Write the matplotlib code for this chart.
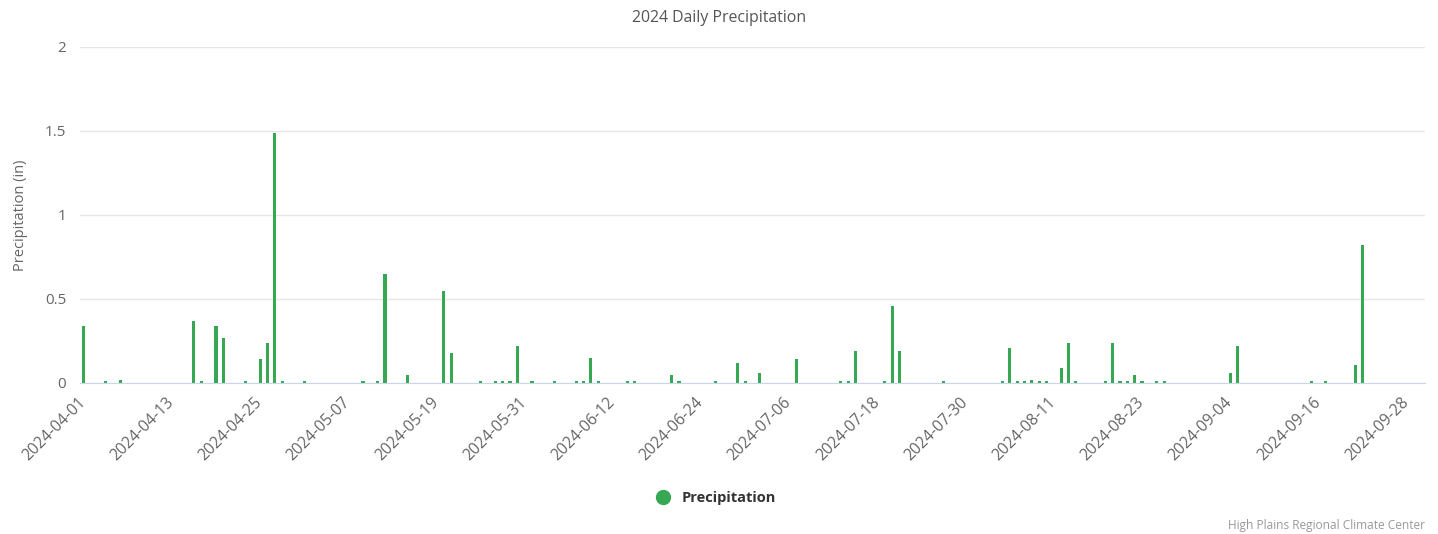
import numpy as np
import pandas as pd
import matplotlib
matplotlib.use("Agg")
import matplotlib.pyplot as plt
import matplotlib.transforms as mtransforms
from matplotlib.lines import Line2D

plt.rcParams['font.family'] = ['Open Sans', 'DejaVu Sans']

# daily precipitation (in), days not listed are zero
start_date = "2024-04-01"
end_date = "2024-09-30"
rain_dates = [
    "2024-04-01", "2024-04-04", "2024-04-06", "2024-04-16", "2024-04-17", "2024-04-19",
    "2024-04-20", "2024-04-23", "2024-04-25", "2024-04-26", "2024-04-27", "2024-04-28",
    "2024-05-01", "2024-05-09", "2024-05-11", "2024-05-12", "2024-05-15", "2024-05-20",
    "2024-05-21", "2024-05-25", "2024-05-27", "2024-05-28", "2024-05-29", "2024-05-30",
    "2024-06-01", "2024-06-04", "2024-06-07", "2024-06-08", "2024-06-09", "2024-06-10",
    "2024-06-14", "2024-06-15", "2024-06-20", "2024-06-21", "2024-06-26", "2024-06-29",
    "2024-06-30", "2024-07-02", "2024-07-07", "2024-07-13", "2024-07-14", "2024-07-15",
    "2024-07-19", "2024-07-20", "2024-07-21", "2024-07-27", "2024-08-04", "2024-08-05",
    "2024-08-06", "2024-08-07", "2024-08-08", "2024-08-09", "2024-08-10", "2024-08-12",
    "2024-08-13", "2024-08-14", "2024-08-18", "2024-08-19", "2024-08-20", "2024-08-21",
    "2024-08-22", "2024-08-23", "2024-08-25", "2024-08-26", "2024-09-04", "2024-09-05",
    "2024-09-15", "2024-09-17", "2024-09-21", "2024-09-22",
]
rain_values = [
    0.34, 0.01, 0.02, 0.37, 0.01, 0.34,
    0.27, 0.01, 0.14, 0.24, 1.49, 0.01,
    0.01, 0.01, 0.01, 0.65, 0.05, 0.55,
    0.18, 0.01, 0.01, 0.01, 0.01, 0.22,
    0.01, 0.01, 0.01, 0.01, 0.15, 0.01,
    0.01, 0.01, 0.05, 0.01, 0.01, 0.12,
    0.01, 0.06, 0.14, 0.01, 0.01, 0.19,
    0.01, 0.46, 0.19, 0.01, 0.01, 0.21,
    0.01, 0.01, 0.02, 0.01, 0.01, 0.09,
    0.24, 0.01, 0.01, 0.24, 0.01, 0.01,
    0.05, 0.01, 0.01, 0.01, 0.06, 0.22,
    0.01, 0.01, 0.11, 0.82,
]
y_ticks = [0, 0.5, 1, 1.5, 2]
y_tick_labels = ["0", "0.5", "1", "1.5", "2"]

days = pd.date_range(start_date, end_date, freq="D")
precip = pd.Series(0.0, index=days)
precip[pd.to_datetime(rain_dates)] = rain_values

bar_colour = '#36a853'
W, H = 1438, 534
fig = plt.figure(figsize=(W / 100, H / 100), dpi=100)
ax = fig.add_axes([80 / W, 1 - 383 / H, (1425 - 80) / W, (383 - 47) / H])

x = np.arange(len(days))
ax.bar(x, precip.values, width=0.42, color=bar_colour, zorder=3)

ax.set_xlim(-0.5, len(days) - 0.5)
ax.set_ylim(0, 2)
ax.set_yticks(y_ticks)
ax.set_yticklabels(y_tick_labels)
tick_idx = x[::12]
ax.set_xticks(tick_idx)
ax.set_xticklabels([days[i].strftime("%Y-%m-%d") for i in tick_idx],
                   rotation=45, ha='right', rotation_mode='anchor')
ax.tick_params(axis='x', length=0, pad=8, labelsize=11.3, labelcolor='#666666')
ax.tick_params(axis='y', length=0, pad=10, labelsize=11, labelcolor='#666666')

# nudge the rotated date labels a little to the left
shift = mtransforms.ScaledTranslation(-6 / 100, 0, fig.dpi_scale_trans)
for lab in ax.get_xticklabels():
    lab.set_transform(lab.get_transform() + shift)

ax.grid(axis='y', color='#e6e6e6', linewidth=1, zorder=0)
for side in ['top', 'right', 'left']:
    ax.spines[side].set_visible(False)
ax.spines['bottom'].set_color('#ccd6eb')
ax.spines['bottom'].set_zorder(4)

ax.set_ylabel("Precipitation (in)", fontsize=10.5, color='#666666', labelpad=12)
fig.text(0.5, 1 - 18 / H, "2024 Daily Precipitation", ha='center', va='center',
         fontsize=11.4, color='#555555')

handle = Line2D([], [], marker='o', linestyle='', color=bar_colour, markersize=10)
fig.legend(handles=[handle], labels=["Precipitation"], loc='center',
           bbox_to_anchor=(0.5 - 7 / W, 1 - 498 / H), frameon=False, handletextpad=0.3,
           prop={'weight': 'bold', 'size': 10.5}, labelcolor='#333333')

fig.text(1425 / W, 1 - 526 / H, "High Plains Regional Climate Center", ha='right',
         va='center', fontsize=8.6, color='#999999')

fig.savefig("out.png", dpi=100)
